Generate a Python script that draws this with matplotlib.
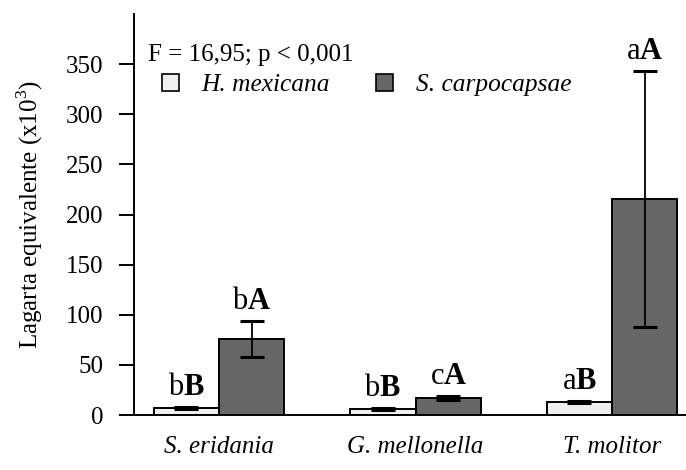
import matplotlib
matplotlib.use("Agg")
import matplotlib.pyplot as plt
import numpy as np
from matplotlib.patches import Patch

plt.rcParams['font.family'] = ['Liberation Serif', 'DejaVu Serif']
plt.rcParams['mathtext.fontset'] = 'custom'
plt.rcParams['mathtext.rm'] = 'Liberation Serif'
plt.rcParams['mathtext.bf'] = 'Liberation Serif:bold'

hosts = ['S. eridania', 'G. mellonella', 'T. molitor']
species = ['H. mexicana', 'S. carpocapsae']
hmex_mean = [7, 6, 13]
hmex_err = [1, 0.8, 1]
scarp_mean = [76, 17, 215.5]
scarp_err = [18, 2, 127.5]
hmex_labels = ['b', 'b', 'a']
scarp_labels = ['b', 'c', 'a']
hmex_caps = ['B', 'B', 'B']
scarp_caps = ['A', 'A', 'A']
yticks = [0, 50, 100, 150, 200, 250, 300, 350]

fig = plt.figure(figsize=(6.86, 4.70), dpi=100)
ax = fig.add_axes([134 / 686, 1 - 415 / 470, 1 - 134 / 686, 401 / 470])

x = np.arange(len(hosts))
w = 0.333
light = '#efefef'
dark = '#666666'
ekw = dict(elinewidth=1.3, capthick=2.2, capsize=8.5, ecolor='black')

ax.bar(x - w / 2, hmex_mean, w, color=light, edgecolor='black', linewidth=1.4,
       yerr=hmex_err, error_kw=ekw, zorder=2)
ax.bar(x + w / 2, scarp_mean, w, color=dark, edgecolor='black', linewidth=1.4,
       yerr=scarp_err, error_kw=ekw, zorder=2)

# significance letters above each bar: lower case regular, upper case bold
for i in range(len(hosts)):
    for xs, m, e, lo, up in [(x[i] - w / 2, hmex_mean[i], hmex_err[i], hmex_labels[i], hmex_caps[i]),
                             (x[i] + w / 2, scarp_mean[i], scarp_err[i], scarp_labels[i], scarp_caps[i])]:
        ax.annotate(r'$\mathrm{%s}\mathbf{%s}$' % (lo, up), (xs, m + e),
                    xytext=(0, 3.5), textcoords='offset points',
                    ha='center', va='bottom', fontsize=22)

ax.set_xlim(-0.433, 2.377)
ax.set_ylim(0, 400)
ax.set_yticks(yticks)
ax.set_xticks(x)
ax.set_xticklabels(hosts, style='italic', fontsize=18)
ax.tick_params(axis='x', length=0, pad=15)
ax.tick_params(axis='y', length=11, width=1.4, pad=11, labelsize=18, direction='out')
ax.set_ylabel(r'Lagarta equivalente (x10$^3$)', fontsize=18)
ax.yaxis.set_label_coords(-(134 - 45) / 552, 0.5)

for s in ['top', 'right']:
    ax.spines[s].set_visible(False)
for s in ['left', 'bottom']:
    ax.spines[s].set_linewidth(1.4)

fig.text(148 / 686, 1 - 55 / 470, 'F = 16,95; p < 0,001',
         ha='left', va='center', fontsize=18)

handles = [Patch(facecolor=light, edgecolor='black', linewidth=1.2),
           Patch(facecolor=dark, edgecolor='black', linewidth=1.2)]
leg = fig.legend(handles, species, loc='center left', bbox_to_anchor=(162 / 686, 1 - 85 / 470),
                 ncol=2, frameon=False, fontsize=18.3, handlelength=0.66, handleheight=0.66,
                 handletextpad=0.9, columnspacing=1.8, borderaxespad=0, borderpad=0)
for t in leg.get_texts():
    t.set_style('italic')

fig.savefig('out.png', dpi=100)
